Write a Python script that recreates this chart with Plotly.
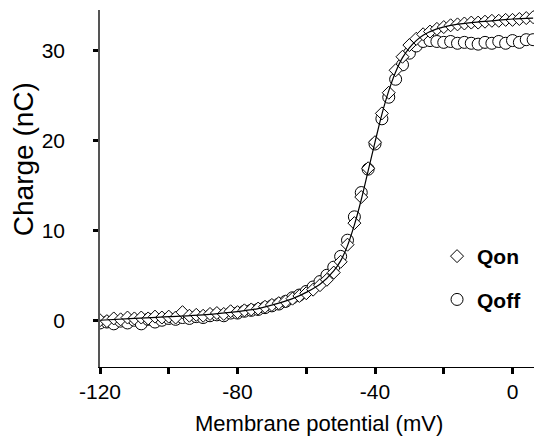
import plotly.graph_objects as go

# Membrane potential (mV) for both data series
voltage = [-120, -118, -116, -114, -112, -110, -108, -106, -104, -102,
           -100, -98, -96, -94, -92, -90, -88, -86, -84, -82,
           -80, -78, -76, -74, -72, -70, -68, -66, -64, -62,
           -60, -58, -56, -54, -52, -50, -48, -46, -44, -42,
           -40, -38, -36, -34, -32, -30, -28, -26, -24, -22,
           -20, -18, -16, -14, -12, -10, -8, -6, -4, -2,
           0, 2, 4, 6]

q_on = [0.0, -0.1, 0.2, 0.1, 0.3, 0.2, 0.3, 0.2, 0.4, 0.3,
        0.4, 0.3, 0.9, 0.5, 0.6, 0.5, 0.7, 0.8, 0.7, 1.0,
        0.9, 1.1, 1.2, 1.3, 1.5, 1.7, 1.9, 2.1, 2.4, 2.7,
        3.0, 3.4, 3.9, 4.5, 5.3, 6.5, 8.4, 10.8, 13.7, 16.9,
        19.8, 23.0, 25.3, 27.8, 29.3, 30.6, 31.3, 31.8, 32.1, 32.4,
        32.6, 32.8, 32.9, 33.0, 33.1, 33.1, 33.2, 33.3, 33.3, 33.4,
        33.4, 33.5, 33.6, 33.7]

q_off = [-0.3, -0.2, -0.4, -0.1, -0.3, 0.0, -0.4, 0.1, -0.2, 0.0,
         0.2, 0.1, 0.3, 0.2, 0.4, 0.3, 0.5, 0.6, 0.5, 0.8,
         0.8, 1.0, 1.1, 1.2, 1.4, 1.6, 1.8, 2.1, 2.5, 2.8,
         3.2, 3.7, 4.3, 5.0, 5.9, 7.1, 8.9, 11.5, 14.2, 16.8,
         19.6, 22.4, 24.8, 26.8, 28.4, 29.7, 30.5, 31.0, 31.1, 31.0,
         30.9, 31.0, 30.8, 30.9, 30.8, 30.7, 30.9, 30.8, 31.0, 30.8,
         31.1, 30.9, 31.2, 31.2]

# Fitted curve
fit_v = [-120, -110, -100, -90, -80, -74, -68, -64, -60, -56, -52, -50, -48,
         -46, -44, -42, -40, -38, -36, -34, -32, -30, -28, -26, -22, -18,
         -12, -6, 0, 6]
fit_q = [0.0, 0.2, 0.4, 0.6, 0.95, 1.3, 1.9, 2.4, 3.1, 4.0, 5.5, 6.6, 8.3,
         10.6, 13.4, 16.6, 19.8, 22.9, 25.5, 27.6, 29.2, 30.3, 31.1, 31.7,
         32.4, 32.8, 33.1, 33.3, 33.5, 33.6]

x_tickvals = [-120, -100, -80, -60, -40, -20, 0]
x_ticktext = ["-120", "", "-80", "", "-40", "", "0"]
y_tickvals = [0, 10, 20, 30]
y_ticktext = ["0", "10", "20", "30"]

x_title = "Membrane potential (mV)"
y_title = "Charge (nC)"

FONT = "Liberation Sans, Arial, sans-serif"

fig = go.Figure()
fig.add_trace(go.Scatter(
    x=voltage, y=q_off, mode="markers", name="Qoff",
    legendgroup="off", legendrank=2,
    marker=dict(symbol="circle", size=12, color="white",
                line=dict(color="black", width=1)),
))
fig.add_trace(go.Scatter(
    x=voltage, y=q_on, mode="markers", name="Qon",
    legendgroup="on", legendrank=1,
    marker=dict(symbol="diamond", size=10, color="white",
                line=dict(color="black", width=1)),
))
fig.add_trace(go.Scatter(
    x=fit_v, y=fit_q, mode="lines", showlegend=False,
    line=dict(color="black", width=1.2, shape="spline"),
))

# The page body keeps its default 8px margin, so the figure is sized
# to fill the remaining 534x430 area of the window.
fig.update_layout(
    width=534, height=430,
    margin=dict(l=92, r=2, t=2, b=71, autoexpand=False),
    paper_bgcolor="white", plot_bgcolor="white",
    font=dict(family=FONT, size=20, color="black"),
    showlegend=True,
    legend=dict(x=0.766, y=0.367, xanchor="left", yanchor="top",
                font=dict(family=FONT, size=21, color="black", weight="bold"),
                tracegroupgap=13, traceorder="grouped",
                bgcolor="rgba(0,0,0,0)"),
    xaxis=dict(range=[-120, 8], showgrid=False, zeroline=False,
               showline=True, linecolor="black", linewidth=1,
               ticks="outside", ticklen=6, tickwidth=2.5, tickcolor="black",
               tickvals=x_tickvals, ticktext=x_ticktext,
               tickfont=dict(size=21), ticklabelstandoff=0,
               automargin=False),
    yaxis=dict(range=[-5.2, 34.5], showgrid=False, zeroline=False,
               showline=True, linecolor="#555", linewidth=1.5,
               ticks="outside", ticklen=5, tickwidth=2.5, tickcolor="black",
               tickvals=y_tickvals, ticktext=y_ticktext,
               tickfont=dict(size=21), ticklabelstandoff=24,
               automargin=False),
    annotations=[
        dict(text=x_title, xref="paper", yref="paper", x=0.498, y=-0.157,
             xanchor="center", yanchor="middle", showarrow=False,
             font=dict(size=22)),
        dict(text=y_title, xref="paper", yref="paper", x=-0.172, y=0.583,
             xanchor="center", yanchor="middle", showarrow=False,
             textangle=-90, font=dict(size=28)),
    ],
)

fig.write_html("out.html")
